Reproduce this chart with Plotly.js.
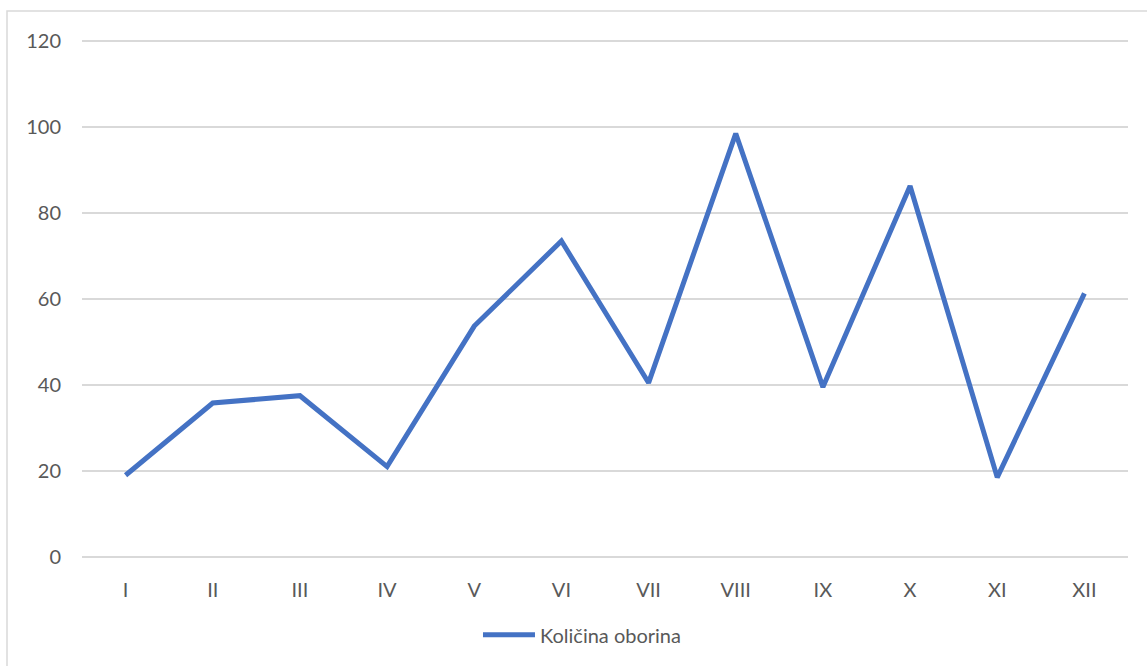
<!DOCTYPE html>
<html>
<head>
<meta charset="utf-8">
<script src="https://cdn.plot.ly/plotly-3.0.1.min.js"></script>
<style>
html,body{margin:0;padding:0;background:#fff;}
#chart{width:1147px;height:666px;}
</style>
</head>
<body>
<div id="chart"></div>
<script>
const months = ["I","II","III","IV","V","VI","VII","VIII","IX","X","XI","XII"];
const precipitation = [19, 35.8, 37.5, 21, 53.7, 73.5, 40.5, 98.5, 39.5, 86.3, 18.5, 61.3];
const seriesName = "Količina oborina";
const yTicks = [0, 20, 40, 60, 80, 100, 120];

const txt = "#595959";
const grid = "#d9d9d9";
const fontFam = "Lato, 'Open Sans', sans-serif";
const fs = 20;

const trace = {
  x: months,
  y: precipitation,
  type: "scatter",
  mode: "lines",
  name: seriesName,
  line: {color: "#4472C4", width: 5, shape: "linear"},
  hoverinfo: "skip"
};

// plot area: y from 39 to 561 px
const plotTop = 39, plotBot = 561;
const layout = {
  width: 1147,
  height: 666,
  margin: {l: 82, r: 19, t: plotTop, b: 666 - plotBot},
  paper_bgcolor: "#fff",
  plot_bgcolor: "#fff",
  font: {family: fontFam, size: fs, color: txt},
  showlegend: true,
  legend: {
    orientation: "h",
    x: 0.478, xanchor: "center",
    y: (plotBot - 637) / (plotBot - plotTop), yanchor: "middle",
    itemwidth: 52,
    font: {family: fontFam, size: fs, color: txt}
  },
  xaxis: {
    type: "category",
    range: [-0.5, 11.5],
    showgrid: false,
    zeroline: false,
    showline: false,
    ticks: "",
    ticklabelstandoff: 17,
    tickfont: {family: fontFam, size: fs, color: txt},
    fixedrange: true
  },
  yaxis: {
    range: [-0.5, 120.5],
    tickvals: yTicks,
    ticktext: yTicks.map(String),
    showgrid: true,
    gridcolor: grid,
    gridwidth: 1.5,
    zeroline: false,
    showline: false,
    ticks: "",
    ticklabelstandoff: 20,
    tickfont: {family: fontFam, size: fs, color: txt},
    fixedrange: true
  },
  shapes: [{
    type: "rect", xref: "paper", yref: "paper",
    x0: (7 - 82) / 1046, x1: (1160 - 82) / 1046,
    y0: (plotBot - 700) / (plotBot - plotTop), y1: (plotBot - 11) / (plotBot - plotTop),
    line: {color: grid, width: 1.5},
    fillcolor: "rgba(0,0,0,0)",
    layer: "below"
  }]
};

Plotly.newPlot("chart", [trace], layout, {displayModeBar: false, staticPlot: true});
</script>
</body>
</html>
